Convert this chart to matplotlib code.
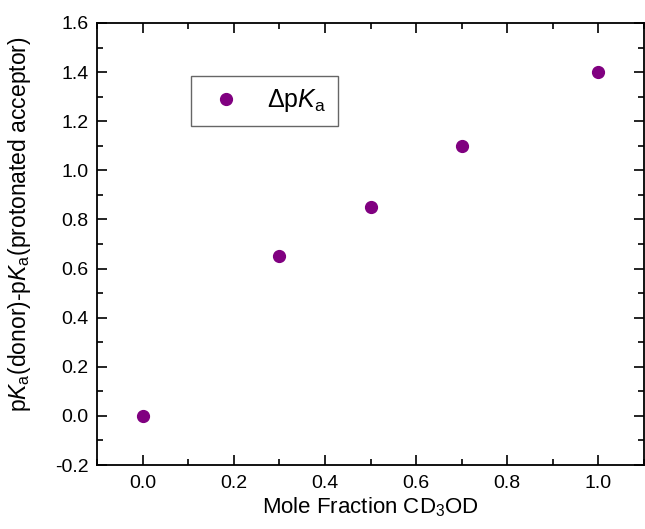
import matplotlib
matplotlib.use('Agg')
import matplotlib.pyplot as plt

# mole fraction of CD3OD and the pKa difference
mole_fraction = [0.0, 0.3, 0.5, 0.7, 1.0]
delta_pka = [0.0, 0.65, 0.85, 1.1, 1.4]

plt.rcParams['font.family'] = ['Liberation Sans', 'DejaVu Sans']
plt.rcParams['mathtext.fontset'] = 'custom'
plt.rcParams['mathtext.rm'] = 'Liberation Sans'
plt.rcParams['mathtext.it'] = 'Liberation Sans:italic'

fig = plt.figure(figsize=(6.45, 5.29), dpi=100)
ax = fig.add_axes([97 / 645, 1 - 465 / 529, 547 / 645, 442 / 529])

ax.plot(mole_fraction, delta_pka, 'o', color='#800080', markersize=8.5,
        label=r'$\Delta$p$K_\mathrm{a}$')

ax.set_xlim(-0.1, 1.1)
ax.set_ylim(-0.2, 1.6)
ax.set_xticks([0.0, 0.2, 0.4, 0.6, 0.8, 1.0])
ax.set_xticks([-0.1, 0.1, 0.3, 0.5, 0.7, 0.9, 1.1], minor=True)
ax.set_yticks([-0.2, 0.0, 0.2, 0.4, 0.6, 0.8, 1.0, 1.2, 1.4, 1.6])
ax.set_yticks([-0.1 + 0.2 * i for i in range(9)], minor=True)
ax.xaxis.set_major_formatter(plt.FormatStrFormatter('%.1f'))
ax.yaxis.set_major_formatter(plt.FormatStrFormatter('%.1f'))

ax.tick_params(which='both', direction='in', top=True, right=True,
               labelsize=14, width=1.2)
ax.tick_params(which='major', length=7)
ax.tick_params(which='minor', length=4)
ax.tick_params(axis='x', pad=7)
ax.tick_params(axis='y', pad=6)
for s in ax.spines.values():
    s.set_linewidth(1.3)

ax.set_xlabel(r'Mole Fraction CD$_\mathrm{3}$OD', fontsize=16, labelpad=3)
ax.set_ylabel(r'p$K_\mathrm{a}$(donor)-p$K_\mathrm{a}$(protonated acceptor)',
              fontsize=16.5, labelpad=16)
ax.yaxis.label.set_y(0.545)

leg = ax.legend(loc='upper left', bbox_to_anchor=(191 / 645, 1 - 76 / 529),
                bbox_transform=fig.transFigure, borderaxespad=0,
                fontsize=18, fancybox=False, frameon=True,
                handletextpad=0.7, borderpad=0.45, handlelength=1.9)
leg.get_frame().set_edgecolor('#404040')
leg.get_frame().set_linewidth(1.0)

fig.savefig('out.png', dpi=100)
